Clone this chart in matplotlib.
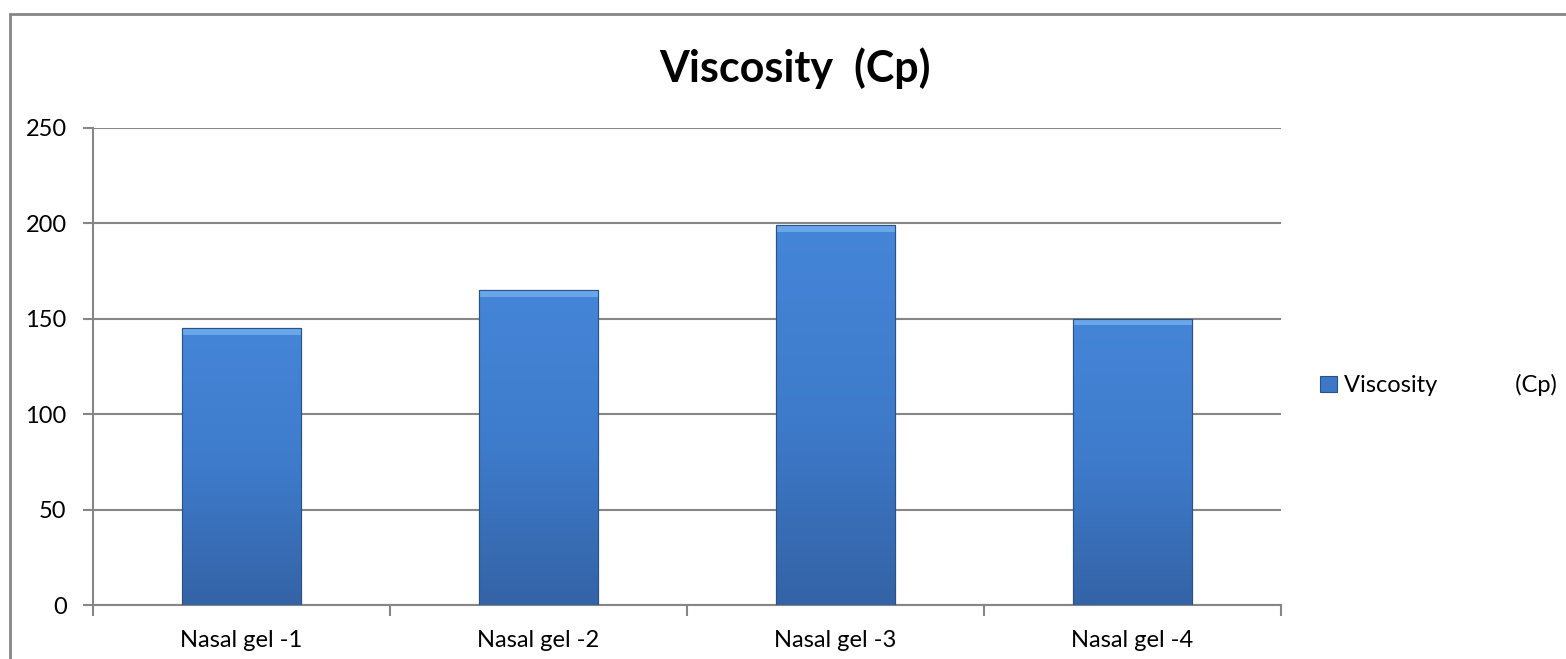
import numpy as np
import matplotlib
matplotlib.use("Agg")
import matplotlib.pyplot as plt
from matplotlib.patches import Rectangle
from matplotlib.colors import LinearSegmentedColormap

# data
categories = ["Nasal gel -1", "Nasal gel -2", "Nasal gel -3", "Nasal gel -4"]
viscosity = [145, 165, 199, 150]
series_name = "Viscosity             (Cp)"
title = "Viscosity  (Cp)"

plt.rcParams['font.family'] = ['Lato', 'DejaVu Sans']

W, H = 1566, 659
fig = plt.figure(figsize=(W / 100, H / 100), dpi=100)

# outer chart frame (right/bottom edges fall outside the picture)
fig.patches.append(Rectangle((10 / W, -0.1), 1.2, (H - 14) / H + 0.1,
                             transform=fig.transFigure, fill=False,
                             edgecolor='#868686', linewidth=2))

ax = fig.add_axes([93 / W, (H - 605) / H, (1281 - 93) / W, (605 - 128) / H])

x = np.arange(len(categories))
bars = ax.bar(x, viscosity, width=0.4, color='#3D78C8',
              edgecolor='#2B5288', linewidth=0.8, zorder=3,
              label=series_name)

# vertical gradient inside each bar
cmap = LinearSegmentedColormap.from_list('bar', ['#4585D8', '#3E7BCB', '#3463A6'])
grad = np.linspace(0, 1, 256).reshape(-1, 1)
for b in bars:
    x0, y0 = b.get_x(), b.get_y()
    w, h = b.get_width(), b.get_height()
    im = ax.imshow(grad, cmap=cmap, aspect='auto', origin='upper',
                   extent=[x0, x0 + w, y0, y0 + h], zorder=3.5)
    im.set_clip_path(b)
    # lighter bevel at the top
    ax.add_patch(Rectangle((x0, y0 + h - 3.5), w, 3.5, facecolor='#6AA6EA',
                           edgecolor='none', zorder=3.6, clip_path=b))
    ax.add_patch(Rectangle((x0, y0), w, h, facecolor='none',
                           edgecolor='#2B5288', linewidth=0.8, zorder=3.7))

ax.set_xlim(-0.5, len(categories) - 0.5)
ax.set_ylim(0, 250)
ax.set_yticks(np.arange(0, 251, 50))
ax.set_xticks(x)
ax.set_xticklabels(categories)
ax.set_xticks(np.arange(-0.5, len(categories), 1), minor=True)

ax.yaxis.grid(True, color='#868686', linewidth=1.5, zorder=0)
ax.set_axisbelow(True)

for s in ['top', 'right']:
    ax.spines[s].set_visible(False)
for s in ['left', 'bottom']:
    ax.spines[s].set_color('#868686')
    ax.spines[s].set_linewidth(1.5)

ax.tick_params(axis='y', length=7, width=1.5, color='#868686', labelsize=17, pad=12)
ax.tick_params(axis='x', which='major', length=0, labelsize=17, pad=18)
ax.tick_params(axis='x', which='minor', length=8, width=1.5, color='#868686')

fig.text(795 / W, 1 - 82 / H, title, ha='center', va='baseline',
         fontsize=31, fontweight='bold')

leg = ax.legend(loc='center left', bbox_to_anchor=(1320 / W, 1 - 385 / H),
                bbox_transform=fig.transFigure, frameon=False, fontsize=17,
                handlelength=0.7, handleheight=0.7, handletextpad=0.3,
                borderpad=0, borderaxespad=0)

fig.savefig('out.png', dpi=100)
